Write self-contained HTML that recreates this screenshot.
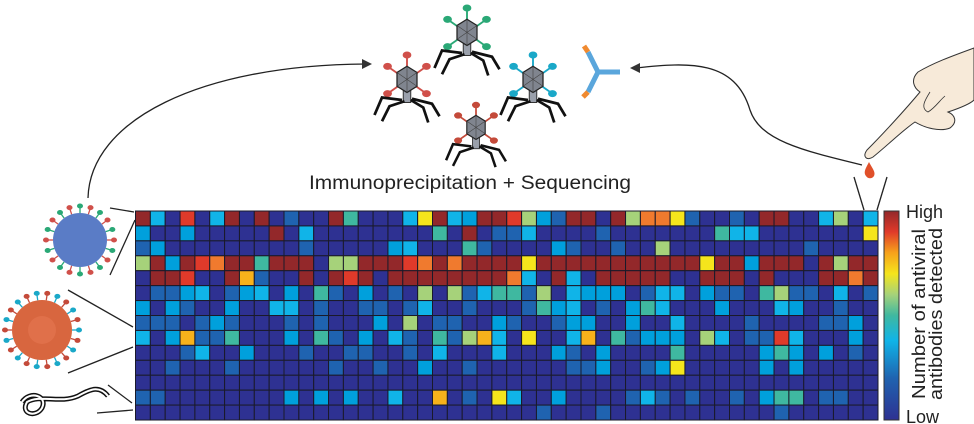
<!DOCTYPE html>
<html><head><meta charset="utf-8"><style>
html,body{margin:0;padding:0;background:#fff;}
body{width:974px;height:424px;overflow:hidden;position:relative;font-family:"Liberation Sans",sans-serif;}
svg{position:absolute;left:0;top:0;}
</style></head><body>
<svg id="s" width="974" height="424" viewBox="0 0 974 424" xmlns="http://www.w3.org/2000/svg">
<defs>
<linearGradient id="jet" x1="0" y1="1" x2="0" y2="0">
<stop offset="0" stop-color="#2e3192"/><stop offset="0.2" stop-color="#1f63b0"/><stop offset="0.38" stop-color="#10b4e8"/>
<stop offset="0.5" stop-color="#3fb8a0"/><stop offset="0.6" stop-color="#a6d27a"/><stop offset="0.7" stop-color="#f5e51c"/>
<stop offset="0.8" stop-color="#f7a21b"/><stop offset="0.9" stop-color="#e03a2a"/><stop offset="1" stop-color="#93282a"/>
</linearGradient>
</defs>
<g id="hm"></g>
<rect x="884" y="211" width="15" height="209" fill="url(#jet)" stroke="#333" stroke-width="1"/>
<text x="906" y="218" font-size="18" fill="#222">High</text>
<text x="906" y="423" font-size="18" fill="#222">Low</text>
<text transform="translate(925,314) rotate(-90)" text-anchor="middle" font-size="18" fill="#222" textLength="170" lengthAdjust="spacingAndGlyphs">Number of antiviral</text>
<text transform="translate(942,314) rotate(-90)" text-anchor="middle" font-size="18" fill="#222" textLength="172" lengthAdjust="spacingAndGlyphs">antibodies detected</text>
<text x="470" y="189" text-anchor="middle" font-size="19" fill="#222" textLength="322" lengthAdjust="spacingAndGlyphs">Immunoprecipitation + Sequencing</text>
<g stroke="#222" stroke-width="1.3" fill="none">
<path d="M88,198 C90,120 200,65 366,64"/>
<path d="M862,165 C800,150 760,140 750,110 C735,60 690,62 636,68"/>
<line x1="110" y1="208" x2="134" y2="212"/><line x1="110" y1="275" x2="135" y2="220"/>
<line x1="68" y1="290" x2="133" y2="327"/><line x1="68" y1="373" x2="133" y2="347"/>
<line x1="108" y1="385" x2="132" y2="403"/><line x1="97" y1="413" x2="133" y2="410"/>
<line x1="854" y1="177" x2="864" y2="210"/><line x1="887" y1="177" x2="877" y2="210"/>
</g>
<path d="M372,64 l-10,-5 l0,10z" fill="#333"/>
<path d="M630,68 l10,-5 l0,10z" fill="#333"/>
<g id="icons"></g>
<!-- hand -->
<path d="M974,48 C955,55 935,62 918,72 C910,80 914,88 920,92 C905,110 882,135 867,150 C862,157 867,161 873,157 C888,145 903,130 915,122 C925,128 940,132 950,128 C958,122 955,115 948,112 C960,108 970,104 974,100 Z" fill="#f7ead9" stroke="#333" stroke-width="1"/>
<path d="M930,92 C925,100 920,108 928,112 C935,108 940,100 945,96" fill="none" stroke="#333" stroke-width="0.8"/>
<path d="M869,162 C866,168 863,172 866,176 C868,179 872,179 874,176 C876,172 872,168 869,162z" fill="#e0502a"/>
<!-- viruses -->
<circle cx="80" cy="240" r="27" fill="#5a7cc6"/>
<circle cx="42" cy="330" r="30" fill="#d8663f"/>
<circle cx="42" cy="330" r="14" fill="#e0704a"/>
<path d="M22,402 C30,390 48,396 42,408 C36,418 20,414 27,402 C40,394 60,404 78,396 C92,388 100,386 108,396" fill="none" stroke="#111" stroke-width="5"/>
<path d="M22,402 C30,390 48,396 42,408 C36,418 20,414 27,402 C40,394 60,404 78,396 C92,388 100,386 108,396" fill="none" stroke="#fff" stroke-width="2"/>
</svg>
<script>
var C={D:"#2e3192",B:"#1f63b0",C:"#10b4e8",c:"#00a0dc",T:"#3fb8a0",G:"#a6d27a",Y:"#f5e51c",O:"#f7b21b",o:"#f07a2e",R:"#e03a2a",M:"#93282a"};
var rows=[
"MCDRDCMDMDBDDMTDDDCYMCcMMRGcBMMDMGooYBDDBDMMDDCGDC",
"cDDcDDDDDMDCDDDDDDDDTDMDBBCDDDDBDDDDDDDTCCDDDDDDDY",
"BcDDDDDDDDDBDDDDDcCDDDTBDDDDcBDDBDDGDDDDDDDDDBDDDD",
"GMcMRoMMTMMMDGGMMMRoMoMMMMYMMMMMMMMMMMYMMcMMMDMGMM",
"DMMRDDMOBDDMDMRMDMMMMMMMMoCDMCDMMMMMDDMMMDMDDDMMoM",
"DBBcCDBcCDcDTBDcDBDGDGBCTTBGDCcccDBCCDcBBDTGBBDCDB",
"cDcBDDcDDCCDBDDBBDBCDDBDDDBTcCDBDcTCDDDcDDDCcDDBDD",
"BBBDBcBDDDBDBDDDcDGDBBDDcBDDBccDDcDDCDDDDBDDDDBBcD",
"CDcOBBTDDDcDTBDcDCBDTBGOCDYDDCODTBcccDGCDBBRCDDDcD",
"DDDBCDDcDDDBDDBBDDBDCDDDCDDDcBDcDDDDTDDDDDcTcDcDBD",
"DDBDDDBDDDDDDBDDBDDcDDBDDDDDDBBcDDBcYDDDDDcDcDDDDD",
"DDDDDDDDDDDDDDDDDDDDDDDDDDDDDDDDDDDDDDDDDDDDDDDDDD",
"BBDDDDDDDDcDcDcDDCDDODBDYCDDcDDDDBCBDBDDBDcTTDBBDD",
"DDDDDDDDDDDDDDDDDDDDDDDDDDDBDDDBDDDDDDDDDDDBDDDDDD"];
var g=document.getElementById("hm"),h="";
var x0=135.5,y0=211,w=14.85,hh=14.93;
for(var r=0;r<14;r++)for(var k=0;k<50;k++){h+='<rect x="'+(x0+k*w).toFixed(2)+'" y="'+(y0+r*hh).toFixed(2)+'" width="'+w+'" height="'+hh+'" fill="'+C[rows[r][k]]+'" stroke="#1a1a2a" stroke-width="1"/>';}
g.innerHTML=h;
var ic="";
function phage(x,y,col,s){
 var p='<g transform="translate('+x+','+y+') scale('+s+')">';
 [[-90,20],[-35,19],[35,19],[-145,19],[145,19]].forEach(function(a){var t=a[0]*Math.PI/180,L=a[1];var ex=Math.cos(t)*L,ey=Math.sin(t)*L;p+='<line x1="0" y1="0" x2="'+ex+'" y2="'+ey+'" stroke="'+col+'" stroke-width="1.5"/><ellipse cx="'+ex+'" cy="'+ey+'" rx="3.5" ry="2.8" fill="'+col+'"/>';});
 p+='<rect x="-3" y="8" width="6" height="10" fill="#9aa0ab" stroke="#333" stroke-width="0.8"/>';
 p+='<path d="M-4,16 l-16,-2 l-6,14 M-2,17 l-12,4 l-6,12 M3,16 l10,6 l4,12 M4,15 l16,4 l6,10" stroke="#111" stroke-width="2.2" fill="none"/>';
 p+='<polygon points="0,-11 8,-6 8,5 0,10 -8,5 -8,-6" fill="#80858f" stroke="#222" stroke-width="1"/><path d="M0,-11 V10 M-8,-6 L8,5 M8,-6 L-8,5" stroke="#444" stroke-width="0.5"/>';
 return p+'</g>';}
ic+=phage(467,33,"#2aa876",1.25)+phage(407,80,"#d0504a",1.25)+phage(476,128,"#c44a3a",1.15)+phage(533,80,"#1aa8c8",1.25);
ic+='<g stroke="#5aa6dc" stroke-width="5" fill="none"><path d="M598,72 L588,52 M598,72 L620,72 M598,72 L588,92"/></g><g stroke="#f08a30" stroke-width="5"><path d="M588,52 l-4,-6 M588,92 l-5,5"/></g>';
function spikes(cx,cy,r,n,cols,len){var p="";for(var i=0;i<n;i++){var t=i*2*Math.PI/n,col=cols[i%cols.length];var ex=cx+Math.cos(t)*(r+len),ey=cy+Math.sin(t)*(r+len);p+='<line x1="'+(cx+Math.cos(t)*r)+'" y1="'+(cy+Math.sin(t)*r)+'" x2="'+ex+'" y2="'+ey+'" stroke="'+col+'" stroke-width="1.3"/><ellipse cx="'+ex+'" cy="'+ey+'" rx="3" ry="2.5" fill="'+col+'"/>';}return p;}
ic+=spikes(80,240,27,20,["#d0504a","#2aa876"],7)+spikes(42,330,30,22,["#1aa8c8","#c44a3a"],7);
for(var i=0;i<10;i++){var t=i*0.63;ic+='<ellipse cx="'+(42+Math.cos(t)*20)+'" cy="'+(330+Math.sin(t)*20)+'" rx="3.5" ry="2.8" fill="#1aa8c8"/><ellipse cx="'+(80+Math.cos(t)*16)+'" cy="'+(240+Math.sin(t)*16)+'" rx="3" ry="2.5" fill="#d0504a"/>';}
document.getElementById("icons").innerHTML=ic;
</script>
</body></html>
